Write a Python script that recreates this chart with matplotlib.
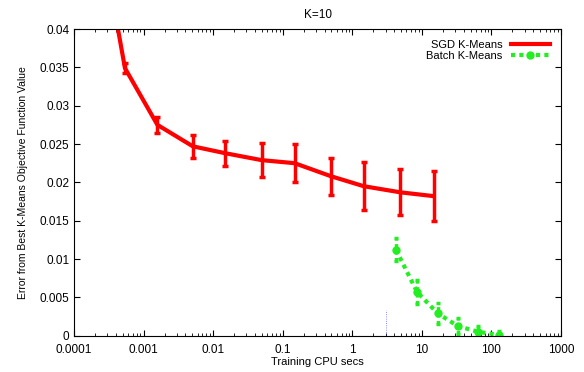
import numpy as np
import matplotlib as mpl
import matplotlib.pyplot as plt
from matplotlib.lines import Line2D

plt.rcParams['font.family'] = ['Liberation Sans', 'DejaVu Sans']
plt.rcParams['font.size'] = 8

# SGD K-Means
sgd_x = [0.0004, 0.00054, 0.00158, 0.0051, 0.0149, 0.0496, 0.148, 0.493, 1.455, 4.9, 14.8]
sgd_y = [0.0415, 0.0349, 0.0275, 0.0247, 0.0238, 0.0229, 0.0225, 0.0208, 0.0195, 0.0187, 0.0182]
sgd_err = [0.0, 0.0007, 0.0010, 0.0015, 0.00165, 0.0022, 0.00245, 0.0024, 0.0031, 0.0030, 0.0033]

# Batch K-Means
batch_x = [4.25, 8.53, 16.9, 32.8, 64.3, 130]
batch_y = [0.0112, 0.0057, 0.0029, 0.00126, 0.0005, 0.0001]
batch_err = [0.0015, 0.0016, 0.0014, 0.0010, 0.0007, 0.0005]

# faint third series near zero
other_x = [1.0, 2.0, 3.0]
other_y = [0.0, 0.0, 0.0]
other_err = [0.0, 0.0, 0.0033]

green = "#22ee22"

fig = plt.figure(figsize=(5.84, 3.72), dpi=100)
ax = fig.add_axes([0.1267, 0.0976, 0.834, 0.8244])

eb = ax.errorbar(other_x, other_y, yerr=other_err, color="blue", lw=0.8, ls=":",
                 elinewidth=0.6, capsize=0, alpha=0.6)
eb[2][0].set_linestyle(":")

ax.errorbar(sgd_x, sgd_y, yerr=sgd_err, color="red", lw=3, capsize=2,
            elinewidth=2.5, capthick=2.5)
eb = ax.errorbar(batch_x, batch_y, yerr=batch_err, color=green, lw=3, ls=(0, (1, 1)),
                 marker="o", ms=5, capsize=1.5, elinewidth=2.5, capthick=2.5)
eb[2][0].set_linestyle((0, (1, 1)))

ax.set_xscale("log")
ax.set_xlim(0.0001, 1000)
ax.set_ylim(0, 0.04)
ax.set_xticks([0.0001, 0.001, 0.01, 0.1, 1, 10, 100, 1000])
ax.set_xticklabels(["0.0001", "0.001", "0.01", "0.1", "1", "10", "100", "1000"])
ax.set_yticks(np.arange(0, 0.0401, 0.005))
ax.set_yticklabels(["0", "0.005", "0.01", "0.015", "0.02", "0.025", "0.03", "0.035", "0.04"])
ax.tick_params(which="both", direction="in", top=True, right=True, labelsize=8.5)
ax.tick_params(axis="x", which="major", pad=6)
ax.tick_params(which="major", length=4)
ax.tick_params(which="minor", length=2)

ax.set_title("K=10", fontsize=8.5, pad=8)
ax.set_xlabel("Training CPU secs", labelpad=1)
ax.set_ylabel("Error from Best K-Means Objective Function Value", fontsize=7.5, labelpad=8)

handles = [
    Line2D([], [], color="red", lw=3),
    Line2D([], [], color=green, lw=3, ls=(0, (1, 1)), marker="o", ms=5),
]
ax.legend(handles, ["SGD K-Means", "Batch K-Means"], loc="upper right", frameon=False,
          markerfirst=False, handlelength=3.5, borderaxespad=0.6, labelspacing=0.1,
          fontsize=8)

fig.savefig("out.png", dpi=100)
